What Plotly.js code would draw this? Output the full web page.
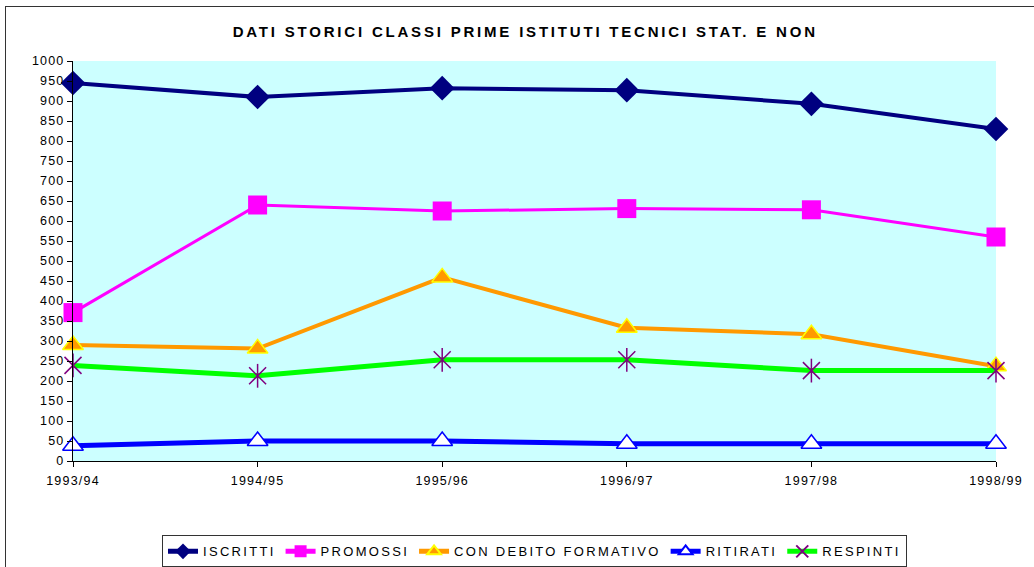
<!DOCTYPE html>
<html>
<head>
<meta charset="utf-8">
<script src="https://cdn.plot.ly/plotly-3.0.1.min.js"></script>
<style>
  body { margin:0; padding:0; background:#fff; }
  #frame { position:absolute; left:5px; top:6px; width:1100px; height:700px; border:1.5px solid #333; }
  #chart { position:absolute; left:0; top:0; width:1034px; height:567px; }
  .gtitle { letter-spacing: 2.8px; }
  .xtick text { letter-spacing: 1.2px; }
  .ytick text { letter-spacing: 1.2px; }
  .legendtext { letter-spacing: 2.3px; }
</style>
</head>
<body>
<div id="frame"></div>
<div id="chart"></div>
<script>
const categories = ["1993/94", "1994/95", "1995/96", "1996/97", "1997/98", "1998/99"];
const iscritti   = [945, 910, 932, 927, 893, 830];
const promossi   = [371, 640, 625, 631, 628, 560];
const conDebito  = [290, 281, 459, 333, 317, 237];
const ritirati   = [38, 50, 50, 43, 43, 43];
const respinti   = [239, 213, 253, 253, 226, 226];
const seriesNames = ["ISCRITTI", "PROMOSSI", "CON DEBITO FORMATIVO", "RITIRATI", "RESPINTI"];

const traces = [
  { x: categories, y: iscritti, name: seriesNames[0], type: 'scatter', mode: 'lines+markers', cliponaxis: false,
    line: { color: '#000080', width: 4 },
    marker: { symbol: 'diamond', size: 19, color: '#000080' } },
  { x: categories, y: promossi, name: seriesNames[1], type: 'scatter', mode: 'lines+markers', cliponaxis: false,
    line: { color: '#FF00FF', width: 3 },
    marker: { symbol: 'square', size: 19, color: '#FF00FF' } },
  { x: categories, y: conDebito, name: seriesNames[2], type: 'scatter', mode: 'lines+markers', cliponaxis: false,
    line: { color: '#FF9900', width: 4 },
    marker: { symbol: 'triangle-up', size: 18, color: '#FF9900', line: { color: '#FFFF00', width: 1.5 } } },
  { x: categories, y: ritirati, name: seriesNames[3], type: 'scatter', mode: 'lines+markers', cliponaxis: false,
    line: { color: '#0000FF', width: 5 },
    marker: { symbol: 'triangle-up', size: 18, color: '#FFFFFF', line: { color: '#0000FF', width: 1.5 } } },
  { x: categories, y: respinti, name: seriesNames[4], type: 'scatter', mode: 'lines+markers', cliponaxis: false,
    line: { color: '#00FF00', width: 5 },
    marker: { symbol: 'x-thin-open', size: 17, color: '#800080', line: { color: '#800080', width: 1.5 } } },
  { x: categories, y: respinti, name: seriesNames[4], type: 'scatter', mode: 'markers', cliponaxis: false, showlegend: false,
    marker: { symbol: 'line-ns-open', size: 17, color: '#800080', line: { color: '#800080', width: 1.5 } } }
];

const layout = {
  width: 1034, height: 567,
  margin: { l: 73, r: 38, t: 61, b: 106, autoexpand: false },
  paper_bgcolor: 'rgba(0,0,0,0)',
  plot_bgcolor: '#CCFFFF',
  font: { family: 'Liberation Sans, Arial, sans-serif', size: 13, color: '#000' },
  title: { text: '<b>DATI STORICI CLASSI PRIME ISTITUTI TECNICI STAT. E NON</b>', x: 0.508, xanchor: 'center', y: 0.944, yanchor: 'middle',
           font: { family: 'Liberation Sans, Arial, sans-serif', size: 15, color: '#000' } },
  xaxis: { type: 'category', range: [0, 5], showgrid: false, zeroline: false, showline: true, linecolor: '#000', linewidth: 1,
           ticks: 'outside', ticklen: 5, tickcolor: '#000', tickfont: { size: 12.5 }, ticklabelstandoff: 3 },
  yaxis: { range: [0, 1000], dtick: 50, showgrid: false, zeroline: false, showline: true, linecolor: '#000', linewidth: 1,
           ticks: 'outside', ticklen: 5, tickcolor: '#000', tickfont: { size: 12.5 } },
  showlegend: true,
  legend: { orientation: 'h', x: 0.5, xanchor: 'center', y: -0.186, yanchor: 'top', bgcolor: '#FFFFFF',
            bordercolor: '#333', borderwidth: 1, font: { size: 13 }, tracegroupgap: 0, itemsizing: 'constant' }
};

Plotly.newPlot('chart', traces, layout, { displayModeBar: false, staticPlot: true });
</script>
</body>
</html>
